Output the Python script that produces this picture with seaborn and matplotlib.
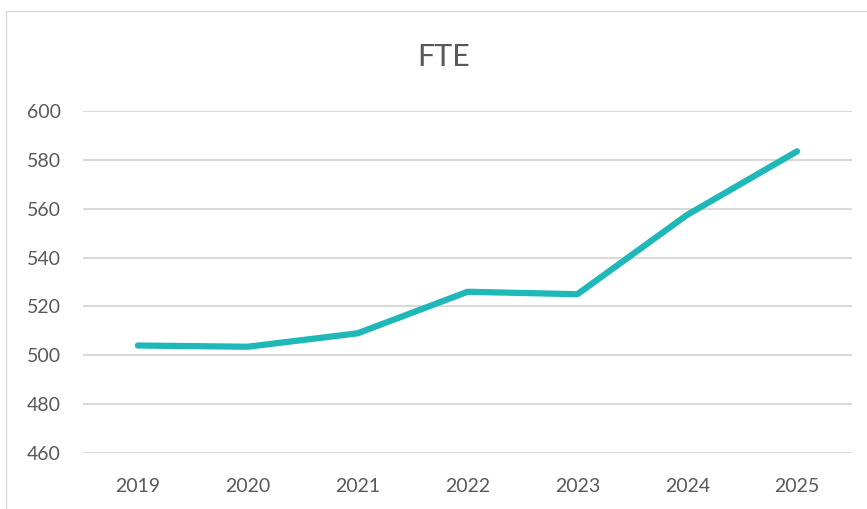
import matplotlib
matplotlib.use("Agg")
import matplotlib.pyplot as plt
import seaborn as sns
import pandas as pd
from matplotlib.lines import Line2D

years = ["2019", "2020", "2021", "2022", "2023", "2024", "2025"]
fte = [504, 503.5, 509, 526, 525, 557.5, 583.5]
y_ticks = [460, 480, 500, 520, 540, 560, 580, 600]

df = pd.DataFrame({"Year": years, "FTE": fte})

sns.set_style("white")
plt.rcParams["font.family"] = ["Lato", "DejaVu Sans"]

fig = plt.figure(figsize=(8.67, 5.09), dpi=100)
ax = fig.add_axes([83 / 867, 1 - 453 / 509, (852 - 83) / 867, (453 - 111) / 509])

sns.lineplot(data=df, x="Year", y="FTE", ax=ax, color="#1FB8B8", linewidth=4.5,
             solid_capstyle="round", sort=False)

ax.set_xlim(-0.5, 6.5)
ax.set_ylim(460, 600)
ax.set_yticks(y_ticks)
ax.yaxis.grid(True, color="#D9D9D9", linewidth=1.5)
ax.set_axisbelow(True)
for s in ax.spines.values():
    s.set_visible(False)
ax.set_xlabel("")
ax.set_ylabel("")
ax.tick_params(axis="both", length=0, labelsize=14, labelcolor="#595959")
ax.tick_params(axis="y", pad=16)
ax.tick_params(axis="x", pad=18)

fig.text(444 / 867, 1 - 57 / 509, "FTE", ha="center", va="center",
         fontsize=22, color="#595959")

# chart area border (left and top edges only visible)
fig.add_artist(Line2D([6 / 867, 6 / 867], [0, 1 - 11 / 509], transform=fig.transFigure,
                      color="#D9D9D9", linewidth=1))
fig.add_artist(Line2D([6 / 867, 1], [1 - 11 / 509, 1 - 11 / 509], transform=fig.transFigure,
                      color="#D9D9D9", linewidth=1))

fig.savefig("out.png", dpi=100)
